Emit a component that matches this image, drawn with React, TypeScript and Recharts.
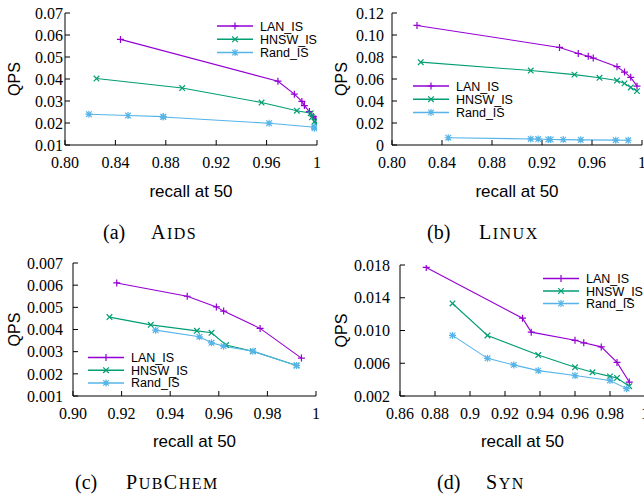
import { Customized, Label, Line, LineChart, XAxis, YAxis } from "recharts";

const seriesNames = ["LAN_IS", "HNSW_IS", "Rand_IS"];
const seriesColors = ["#9400d3", "#009e73", "#56b4e9"];
const seriesMarkers = ["plus", "cross", "star"];

// (a) AIDS
const aidsLanRecall = [0.844, 0.969, 0.982, 0.988, 0.99, 0.994, 0.997, 0.999];
const aidsLanQps = [0.058, 0.039, 0.0331, 0.0298, 0.0279, 0.0252, 0.0229, 0.0218];
const aidsHnswRecall = [0.825, 0.893, 0.956, 0.984, 0.995, 0.996, 0.998, 0.999];
const aidsHnswQps = [0.0402, 0.0359, 0.0293, 0.0256, 0.0244, 0.0226, 0.0206, 0.0198];
const aidsRandRecall = [0.819, 0.85, 0.878, 0.878, 0.962, 0.998, 0.998];
const aidsRandQps = [0.024, 0.0234, 0.0229, 0.0227, 0.0199, 0.0181, 0.0176];
const aidsXTicks = [0.8, 0.84, 0.88, 0.92, 0.96, 1];
const aidsXLabels = ["0.80", "0.84", "0.88", "0.92", "0.96", "1"];
const aidsYTicks = [0.01, 0.02, 0.03, 0.04, 0.05, 0.06, 0.07];
const aidsYLabels = ["0.01", "0.02", "0.03", "0.04", "0.05", "0.06", "0.07"];

// (b) LINUX
const linuxLanRecall = [0.82, 0.934, 0.949, 0.957, 0.961, 0.98, 0.986, 0.991, 0.996];
const linuxLanQps = [0.1087, 0.0887, 0.0832, 0.0806, 0.079, 0.0712, 0.0663, 0.0615, 0.0535];
const linuxHnswRecall = [0.823, 0.911, 0.946, 0.966, 0.98, 0.986, 0.991, 0.996];
const linuxHnswQps = [0.0753, 0.0677, 0.064, 0.0611, 0.0586, 0.056, 0.0523, 0.049];
const linuxRandRecall = [0.845, 0.911, 0.917, 0.925, 0.927, 0.937, 0.951, 0.979, 0.989];
const linuxRandQps = [0.0066, 0.0055, 0.0054, 0.005, 0.005, 0.0049, 0.0047, 0.0044, 0.0043];
const linuxXTicks = [0.8, 0.84, 0.88, 0.92, 0.96, 1];
const linuxXLabels = ["0.80", "0.84", "0.88", "0.92", "0.96", "1"];
const linuxYTicks = [0, 0.02, 0.04, 0.06, 0.08, 0.1, 0.12];
const linuxYLabels = ["0", "0.02", "0.04", "0.06", "0.08", "0.10", "0.12"];

// (c) PUBCHEM
const pubLanRecall = [0.918, 0.947, 0.959, 0.962, 0.977, 0.994];
const pubLanQps = [0.0061, 0.0055, 0.00502, 0.00483, 0.00405, 0.00271];
const pubHnswRecall = [0.915, 0.932, 0.951, 0.957, 0.963, 0.974, 0.992];
const pubHnswQps = [0.00456, 0.00421, 0.00394, 0.00385, 0.0033, 0.00302, 0.00238];
const pubRandRecall = [0.934, 0.952, 0.957, 0.962, 0.974, 0.992];
const pubRandQps = [0.00397, 0.00367, 0.0034, 0.00325, 0.00302, 0.00238];
const pubXTicks = [0.9, 0.92, 0.94, 0.96, 0.98, 1];
const pubXLabels = ["0.90", "0.92", "0.94", "0.96", "0.98", "1"];
const pubYTicks = [0.001, 0.002, 0.003, 0.004, 0.005, 0.006, 0.007];
const pubYLabels = ["0.001", "0.002", "0.003", "0.004", "0.005", "0.006", "0.007"];

// (d) SYN
const synLanRecall = [0.875, 0.93, 0.935, 0.96, 0.965, 0.975, 0.984, 0.991];
const synLanQps = [0.0177, 0.0115, 0.0098, 0.0088, 0.0085, 0.008, 0.0061, 0.0037];
const synHnswRecall = [0.89, 0.91, 0.939, 0.96, 0.97, 0.98, 0.984, 0.991];
const synHnswQps = [0.0133, 0.0094, 0.007, 0.0055, 0.0049, 0.0044, 0.0042, 0.0032];
const synRandRecall = [0.89, 0.91, 0.925, 0.939, 0.96, 0.98, 0.9895];
const synRandQps = [0.0094, 0.0066, 0.0058, 0.0051, 0.0045, 0.0039, 0.0029];
const synXTicks = [0.86, 0.88, 0.9, 0.92, 0.94, 0.96, 0.98, 1];
const synXLabels = ["0.86", "0.88", "0.9", "0.92", "0.94", "0.96", "0.98", "1"];
const synYTicks = [0.002, 0.006, 0.01, 0.014, 0.018];
const synYLabels = ["0.002", "0.006", "0.010", "0.014", "0.018"];

const toPoints = (xs: number[], ys: number[]) => xs.map((x, i) => ({ x, y: ys[i] }));

const SERIF = "'Liberation Serif', 'Times New Roman', serif";
const SANS = "'Liberation Sans', Arial, Helvetica, sans-serif";

const panels = [
  {
    key: "a",
    left: 0, top: 0, width: 322, height: 200,
    margin: { top: 13, right: 5, bottom: 0, left: 0 },
    yAxisWidth: 65, xAxisHeight: 55, yTickMargin: 7, yTitleX: 14,
    xDomain: [0.8, 1], xTicks: aidsXTicks, xLabels: aidsXLabels,
    yDomain: [0.01, 0.07], yTicks: aidsYTicks, yLabels: aidsYLabels,
    series: [
      toPoints(aidsLanRecall, aidsLanQps),
      toPoints(aidsHnswRecall, aidsHnswQps),
      toPoints(aidsRandRecall, aidsRandQps),
    ],
    legend: { x: 217, y: 26, step: 13.3 },
    tag: "(a)", name: "Aids", tagLeft: 103, nameLeft: 151, captionTop: 221,
  },
  {
    key: "b",
    left: 320, top: 0, width: 324, height: 200,
    margin: { top: 13, right: 2, bottom: 0, left: 0 },
    yAxisWidth: 72, xAxisHeight: 55, yTickMargin: 13, yTitleX: 21,
    xDomain: [0.8, 1], xTicks: linuxXTicks, xLabels: linuxXLabels,
    yDomain: [0, 0.12], yTicks: linuxYTicks, yLabels: linuxYLabels,
    series: [
      toPoints(linuxLanRecall, linuxLanQps),
      toPoints(linuxHnswRecall, linuxHnswQps),
      toPoints(linuxRandRecall, linuxRandQps),
    ],
    legend: { x: 93, y: 86, step: 13.2 },
    tag: "(b)", name: "Linux", tagLeft: 427, nameLeft: 479, captionTop: 221,
  },
  {
    key: "c",
    left: 0, top: 250, width: 322, height: 200,
    margin: { top: 13, right: 6, bottom: 0, left: 0 },
    yAxisWidth: 73, xAxisHeight: 54, yTickMargin: 15, yTitleX: 14,
    xDomain: [0.9, 1], xTicks: pubXTicks, xLabels: pubXLabels,
    yDomain: [0.001, 0.007], yTicks: pubYTicks, yLabels: pubYLabels,
    series: [
      toPoints(pubLanRecall, pubLanQps),
      toPoints(pubHnswRecall, pubHnswQps),
      toPoints(pubRandRecall, pubRandQps),
    ],
    legend: { x: 88, y: 107.5, step: 12.7 },
    tag: "(c)", name: "PubChem", tagLeft: 75, nameLeft: 126, captionTop: 471,
  },
  {
    key: "d",
    left: 320, top: 250, width: 326, height: 200,
    margin: { top: 15, right: 1, bottom: 0, left: 0 },
    yAxisWidth: 80, xAxisHeight: 54, yTickMargin: 15, yTitleX: 21,
    xDomain: [0.86, 1], xTicks: synXTicks, xLabels: synXLabels,
    yDomain: [0.002, 0.018], yTicks: synYTicks, yLabels: synYLabels,
    series: [
      toPoints(synLanRecall, synLanQps),
      toPoints(synHnswRecall, synHnswQps),
      toPoints(synRandRecall, synRandQps),
    ],
    legend: { x: 223, y: 28.5, step: 12.5 },
    tag: "(d)", name: "Syn", tagLeft: 437, nameLeft: 486, captionTop: 471,
  },
];

const Marker = ({ kind, cx, cy, color }: { kind: string; cx: number; cy: number; color: string }) => {
  const s = 3.5;
  const d = 2.8;
  const plus = `M${cx - s},${cy}H${cx + s}M${cx},${cy - s}V${cy + s}`;
  const cross = `M${cx - d},${cy - d}L${cx + d},${cy + d}M${cx - d},${cy + d}L${cx + d},${cy - d}`;
  const path = kind === "plus" ? plus : kind === "cross" ? cross : plus + cross;
  return <path d={path} stroke={color} strokeWidth={1.2} fill="none" />;
};

const PanelLegend = ({ x, y, step }: { x: number; y: number; step: number }) => (
  <g>
    {seriesNames.map((name, i) => {
      const cy = y + i * step;
      return (
        <g key={name}>
          <line x1={x} x2={x + 36} y1={cy} y2={cy} stroke={seriesColors[i]} strokeWidth={1.5} />
          <Marker kind={seriesMarkers[i]} cx={x + 18} cy={cy} color={seriesColors[i]} />
          <text x={x + 43} y={cy} dy="0.36em" fontFamily={SANS} fontSize={12.5} fill="#000">
            {name}
          </text>
        </g>
      );
    })}
  </g>
);

const tickStyle = { fill: "#000", fontSize: 16, fontFamily: SERIF };

const Panel = ({ p }: { p: (typeof panels)[number] }) => {
  const fmt = (ticks: number[], labels: string[]) => (v: number, i: number) => {
    const k = ticks.indexOf(v);
    return k >= 0 ? labels[k] : labels[i] ?? String(v);
  };
  return (
    <div style={{ position: "absolute", left: p.left, top: p.top }}>
      <LineChart width={p.width} height={p.height} margin={p.margin}>
        <XAxis
          type="number"
          dataKey="x"
          domain={p.xDomain}
          ticks={p.xTicks}
          tickFormatter={fmt(p.xTicks, p.xLabels)}
          interval={0}
          allowDataOverflow
          height={p.xAxisHeight}
          stroke="#000"
          tick={tickStyle}
          tickSize={-5}
          tickMargin={17}
        >
          <Label value="recall at 50" position="insideBottom" offset={3} fill="#000" fontSize={17} fontFamily={SANS} />
        </XAxis>
        <XAxis
          xAxisId="top"
          orientation="top"
          type="number"
          dataKey="x"
          domain={p.xDomain}
          ticks={p.xTicks}
          interval={0}
          allowDataOverflow
          height={0}
          stroke="#000"
          tick={false}
          tickSize={-5}
        />
        <YAxis
          type="number"
          domain={p.yDomain}
          ticks={p.yTicks}
          tickFormatter={fmt(p.yTicks, p.yLabels)}
          interval={0}
          allowDataOverflow
          width={p.yAxisWidth}
          stroke="#000"
          tick={tickStyle}
          tickSize={-5}
          tickMargin={p.yTickMargin}
        >
          <Label
            value="QPS"
            angle={-90}
            position="insideLeft"
            offset={p.yTitleX}
            fill="#000"
            fontSize={16}
            fontFamily={SANS}
            style={{ textAnchor: "middle" }}
          />
        </YAxis>
        <YAxis
          yAxisId="right"
          orientation="right"
          type="number"
          domain={p.yDomain}
          ticks={p.yTicks}
          interval={0}
          allowDataOverflow
          width={0}
          stroke="#000"
          tick={false}
          tickSize={-5}
        />
        {p.series.map((data, i) => (
          <Line
            key={seriesNames[i]}
            data={data}
            dataKey="y"
            name={seriesNames[i]}
            type="linear"
            stroke={seriesColors[i]}
            strokeWidth={1.1}
            isAnimationActive={false}
            activeDot={false}
            dot={(d: any) =>
              d.cx == null ? (
                <g key={`${seriesNames[i]}-${d.index}`} />
              ) : (
                <Marker key={`${seriesNames[i]}-${d.index}`} kind={seriesMarkers[i]} cx={d.cx} cy={d.cy} color={seriesColors[i]} />
              )
            }
          />
        ))}
        <Customized component={<PanelLegend x={p.legend.x} y={p.legend.y} step={p.legend.step} />} />
      </LineChart>
    </div>
  );
};

const captionStyle = { position: "absolute" as const, fontFamily: SERIF, fontSize: 20, lineHeight: "22px", color: "#000", whiteSpace: "nowrap" as const };

// small caps drawn by hand: capitals at full size, lower-case letters as smaller capitals
const SmallCaps = ({ text }: { text: string }) => (
  <>
    {text.split("").map((ch, i) =>
      ch === ch.toUpperCase() ? (
        <span key={i}>{ch}</span>
      ) : (
        <span key={i} style={{ fontSize: 16, textTransform: "uppercase" }}>
          {ch}
        </span>
      )
    )}
  </>
);

export default function App() {
  return (
    <div style={{ position: "absolute", left: 0, top: 0, width: 644, height: 497, overflow: "hidden", background: "#fff" }}>
      {panels.map((p) => (
        <Panel key={p.key} p={p} />
      ))}
      {panels.map((p) => (
        <div key={`cap-${p.key}`}>
          <span style={{ ...captionStyle, left: p.tagLeft, top: p.captionTop }}>{p.tag}</span>
          <span style={{ ...captionStyle, left: p.nameLeft, top: p.captionTop, letterSpacing: 1.5 }}>
            <SmallCaps text={p.name} />
          </span>
        </div>
      ))}
    </div>
  );
}
